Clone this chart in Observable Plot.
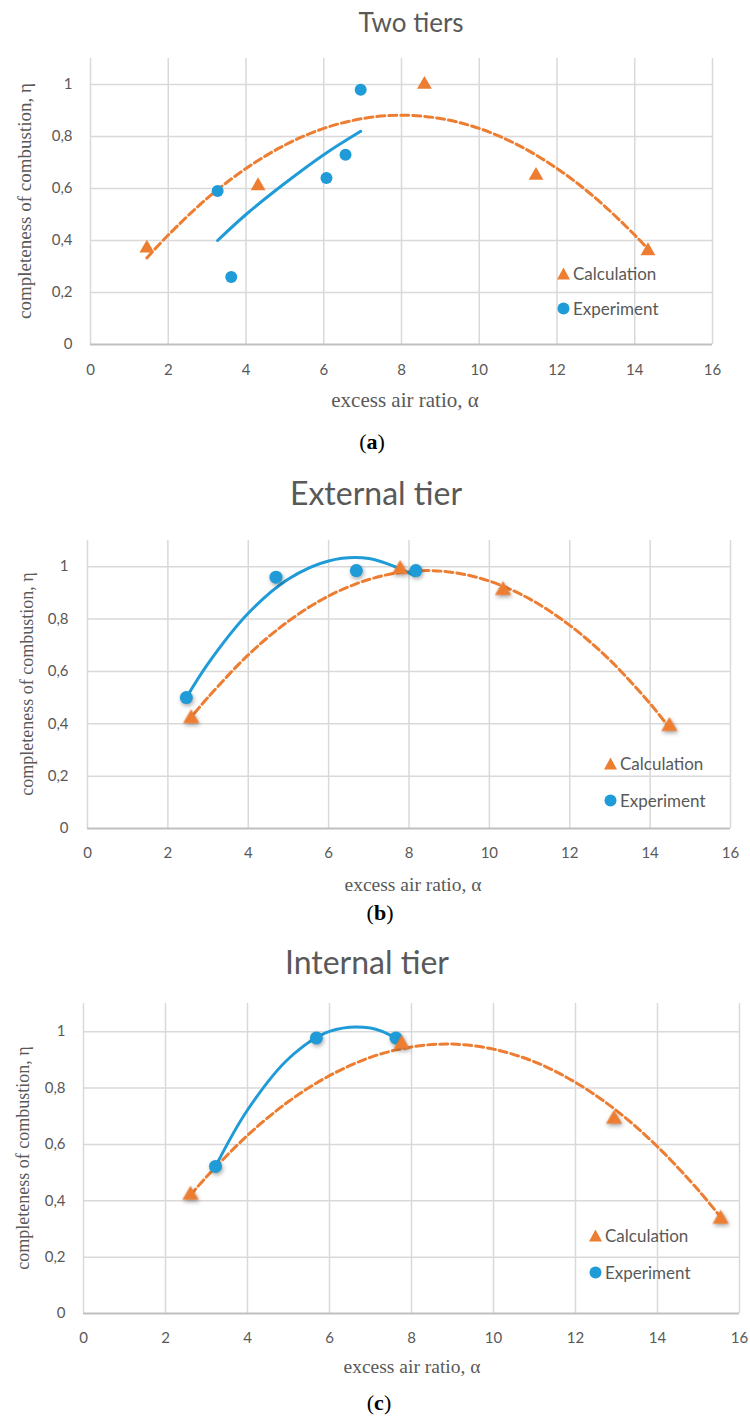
<!DOCTYPE html>
<html>
<head>
<meta charset="utf-8">
<script src="https://cdn.jsdelivr.net/npm/d3@7"></script>
<script src="https://cdn.jsdelivr.net/npm/@observablehq/plot@0.6"></script>
<style>
  html, body { margin: 0; padding: 0; background: #fff; }
  #page { position: relative; width: 750px; height: 1416px; overflow: hidden; background: #fff; }
  .abs { position: absolute; white-space: nowrap; }
  .title { font-family: Lato, "Open Sans", sans-serif; color: #595959; transform: translate(-50%, -50%); }
  .xlab { font-family: "Liberation Serif", "DejaVu Serif", serif; color: #595959; transform: translate(-50%, -50%); }
  .ylab { font-family: "Liberation Serif", "DejaVu Serif", serif; color: #595959; transform: translate(-50%, -50%) rotate(-90deg); }
  .cap { font-family: "Liberation Serif", "DejaVu Serif", serif; color: #000; font-size: 22px; font-weight: bold; transform: translate(-50%, -50%); }
  .cap span { font-weight: normal; }
  .leg { font-family: Lato, "Open Sans", sans-serif; color: #595959; font-size: 17px; display: flex; align-items: center; transform: translateY(-50%); }
  .leg svg { margin-right: 2px; }
</style>
</head>
<body>
<div id="page"></div>
<script>
// ---------- data ----------
const xTicks = [0, 2, 4, 6, 8, 10, 12, 14, 16];
const yTicks = [0, 0.2, 0.4, 0.6, 0.8, 1];
const seriesNames = ["Calculation", "Experiment"];
const panelTitles = ["Two tiers", "External tier", "Internal tier"];
const panelCaptions = ["a", "b", "c"];
const xLabel = "excess air ratio, α";
const yLabel = "completeness of combustion, η";

// (a) Two tiers
const calcA = [[1.45, 0.37], [4.31, 0.61], [8.59, 1.0], [11.46, 0.65], [14.34, 0.36]];
const expA = [[3.27, 0.59], [3.62, 0.26], [6.07, 0.64], [6.56, 0.73], [6.95, 0.98]];
const calcTrendA = [[1.45, 0.333], [2, 0.421], [3, 0.562], [4, 0.677], [5, 0.767], [6, 0.831], [7, 0.869], [8, 0.882], [9, 0.869], [10, 0.831], [11, 0.767], [12, 0.677], [13, 0.562], [14, 0.421], [14.34, 0.367]];
const expTrendA = [[3.27, 0.40], [4, 0.50], [5, 0.62], [6, 0.73], [6.95, 0.82]];

// (b) External tier
const calcB = [[2.58, 0.42], [7.78, 0.99], [10.34, 0.91], [14.48, 0.39]];
const expB = [[2.46, 0.50], [4.69, 0.96], [6.69, 0.985], [8.17, 0.985]];
const calcTrendB = [[2.66, 0.44], [3, 0.501], [4, 0.663], [5, 0.792], [6, 0.888], [7, 0.951], [8, 0.982], [9, 0.980], [10, 0.945], [11, 0.877], [12, 0.776], [13, 0.643], [14, 0.477], [14.42, 0.396]];
const expTrendB = [[2.46, 0.50], [3, 0.630], [4, 0.822], [5, 0.953], [6, 1.022], [7, 1.031], [8.14, 0.966]];

// (c) Internal tier
const calcC = [[2.61, 0.42], [7.76, 0.955], [12.94, 0.69], [15.54, 0.335]];
const expC = [[3.22, 0.522], [5.68, 0.978], [7.62, 0.978]];
const calcTrendC = [[2.61, 0.42], [3, 0.485], [4, 0.632], [5, 0.752], [6, 0.844], [7, 0.909], [8, 0.946], [9, 0.956], [10, 0.938], [11, 0.893], [12, 0.820], [13, 0.720], [14, 0.592], [15, 0.437], [15.54, 0.342]];
const expTrendC = [[3.22, 0.522], [4, 0.722], [5, 0.904], [6, 1.001], [7, 1.013], [7.62, 0.977]];

// ---------- styling ----------
const ORANGE = "#ED7D31";
const BLUE = "#1F9BD7";
const GRID = "#d9d9d9";
const AXIS = "#bfbfbf";
const TEXT = "#595959";

const toObj = arr => arr.map(([x, y]) => ({x, y}));

const panels = [
  {calc: calcA, exp: expA, calcTrend: calcTrendA, expTrend: expTrendA,
   svgTop: 40, height: 340, ml: 90, mr: 38, mt: 18, mb: 36, xPad: 20, yPad: 18, shadow: false,
   titleY: 22, titleX: 411, titleSize: 26,
   xlabX: 405, xlabY: 400, xlabSize: 21, ylabX: 25, ylabSize: 19, capX: 372, capY: 442,
   legX: 556, legY1: 273, legY2: 308, dotR: 6, triR: 5.5},
  {calc: calcB, exp: expB, calcTrend: calcTrendB, expTrend: expTrendB,
   svgTop: 520, height: 340, ml: 87, mr: 20, mt: 20, mb: 32, xPad: 19, yPad: 19, shadow: true,
   titleY: 492, titleX: 376, titleSize: 32,
   xlabX: 413, xlabY: 885, xlabSize: 19.5, ylabX: 27, ylabSize: 18, capX: 380, capY: 913,
   legX: 603, legY1: 763, legY2: 800, dotR: 6.5, triR: 6},
  {calc: calcC, exp: expC, calcTrend: calcTrendC, expTrend: expTrendC,
   svgTop: 985, height: 365, ml: 83, mr: 11, mt: 18, mb: 37, xPad: 19, yPad: 18, shadow: true,
   titleY: 961, titleX: 367, titleSize: 32,
   xlabX: 412, xlabY: 1367, xlabSize: 19.5, ylabX: 23, ylabSize: 18, capX: 379, capY: 1403,
   legX: 588, legY1: 1235, legY2: 1272, dotR: 6.5, triR: 6}
];

const page = document.getElementById("page");

function addDiv(cls, left, top, html, extraStyle) {
  const d = document.createElement("div");
  d.className = "abs " + cls;
  d.style.left = left + "px";
  d.style.top = top + "px";
  if (extraStyle) Object.assign(d.style, extraStyle);
  d.innerHTML = html;
  page.appendChild(d);
  return d;
}

panels.forEach((p, i) => {
  const chart = Plot.plot({
    width: 750,
    height: p.height,
    marginLeft: p.ml,
    marginRight: p.mr,
    marginTop: p.mt,
    marginBottom: p.mb,
    x: {domain: [0, 16]},
    y: {domain: [0, 1.1]},
    style: {fontFamily: "Lato, 'Open Sans', sans-serif", fontSize: "15px", color: TEXT, background: "transparent", overflow: "visible"},
    marks: [
      Plot.gridX(xTicks, {stroke: GRID, strokeOpacity: 1, strokeWidth: 1.5}),
      Plot.gridY(yTicks.filter(d => d > 0), {stroke: GRID, strokeOpacity: 1, strokeWidth: 1.5}),
      Plot.ruleY([0], {stroke: AXIS, strokeWidth: 2}),
      Plot.axisX(xTicks, {tickSize: 0, tickPadding: p.xPad, label: null, fill: TEXT, tickFormat: d => String(d)}),
      Plot.axisY(yTicks, {tickSize: 0, tickPadding: p.yPad, label: null, fill: TEXT, tickFormat: d => String(d).replace(".", ",")}),
      Plot.line(toObj(p.calcTrend), {x: "x", y: "y", stroke: ORANGE, strokeWidth: 3, strokeDasharray: "8,4", curve: "catmull-rom"}),
      Plot.line(toObj(p.expTrend), {x: "x", y: "y", stroke: BLUE, strokeWidth: 3, curve: "catmull-rom"}),
      Plot.dot(toObj(p.exp), {x: "x", y: "y", symbol: "circle", r: p.dotR, fill: BLUE, stroke: "none"}),
      Plot.dot(toObj(p.calc), {x: "x", y: "y", symbol: "triangle", r: p.triR, fill: ORANGE, stroke: "none"})
    ]
  });
  chart.style.position = "absolute";
  chart.style.left = "0px";
  chart.style.top = p.svgTop + "px";
  if (p.shadow) {
    chart.querySelectorAll('g[aria-label="dot"]').forEach(g => {
      g.style.filter = "drop-shadow(1px 2px 2px rgba(0,0,0,0.35))";
    });
  }
  page.appendChild(chart);

  const frameTop = p.svgTop + p.mt;
  const frameBottom = p.svgTop + p.height - p.mb;
  addDiv("title", p.titleX, p.titleY, panelTitles[i], {fontSize: p.titleSize + "px"});
  addDiv("xlab", p.xlabX, p.xlabY, xLabel, {fontSize: p.xlabSize + "px"});
  addDiv("ylab", p.ylabX, (frameTop + frameBottom) / 2, yLabel, {fontSize: p.ylabSize + "px"});
  addDiv("cap", p.capX, p.capY, "<span>(</span>" + panelCaptions[i] + "<span>)</span>");

  const tri = `<svg width="15" height="14" viewBox="0 0 15 14"><polygon points="7.5,1 14,13 1,13" fill="${ORANGE}"/></svg>`;
  const cir = `<svg width="15" height="14" viewBox="0 0 15 14"><circle cx="7.5" cy="7" r="6" fill="${BLUE}"/></svg>`;
  addDiv("leg", p.legX, p.legY1, tri + "<span>" + seriesNames[0] + "</span>");
  addDiv("leg", p.legX, p.legY2, cir + "<span>" + seriesNames[1] + "</span>");
});
</script>
</body>
</html>
